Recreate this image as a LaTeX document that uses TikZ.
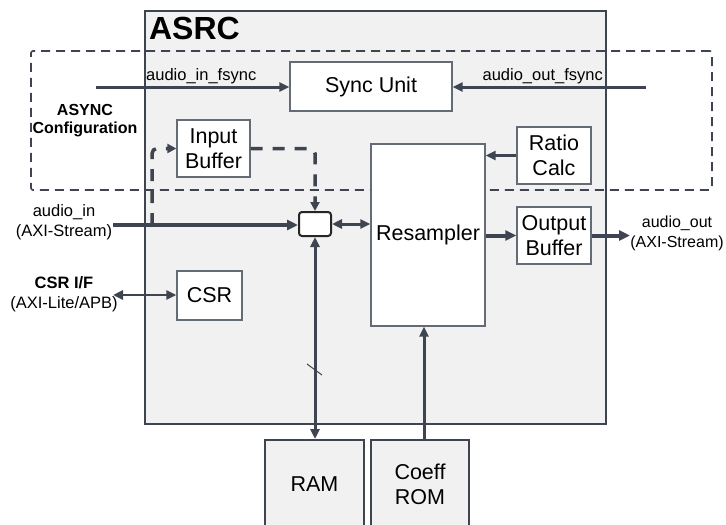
\documentclass[tikz,border=0pt]{standalone}
\usepackage{fontspec}
\setmainfont{Liberation Sans}
\usetikzlibrary{arrows.meta, positioning}
\definecolor{linedark}{HTML}{3E4551}
\definecolor{boxgray}{HTML}{656B74}
\definecolor{panelgray}{HTML}{F1F1F1}

\begin{document}
\begin{tikzpicture}[
    x=1pt, y=-1pt,
    panel/.style={
        rectangle,
        draw=linedark,
        fill=panelgray,
        line width=2.2pt,
        inner sep=0pt
    },
    cfgframe/.style={
        rectangle,
        draw=linedark,
        line width=1.6pt,
        dash pattern=on 9pt off 6pt,
        rounded corners=2pt,
        inner sep=0pt
    },
    block/.style={
        rectangle,
        draw=boxgray,
        fill=white,
        line width=1.3pt,
        align=center,
        inner sep=0pt,
        font=\fontsize{21.5}{25}\selectfont
    },
    memblock/.style={
        block,
        draw=linedark,
        fill=panelgray,
        line width=2pt
    },
    muxbox/.style={
        rectangle,
        rounded corners=3pt,
        draw=black!85,
        fill=white,
        line width=2pt,
        minimum width=32pt,
        minimum height=24pt
    },
    lbl/.style={align=center, inner sep=0pt, font=\fontsize{16.5}{20}\selectfont},
    boldlbl/.style={lbl, font=\fontsize{16}{18}\selectfont\bfseries},
    arrow/.style={-{Triangle[length=10pt, width=9pt]}, line width=3pt, draw=linedark},
    biarrow/.style={{Triangle[length=10pt, width=9pt]}-{Triangle[length=10pt, width=9pt]}, line width=3pt, draw=linedark},
    dataarrow/.style={-{Triangle[length=11pt, width=10pt]}, line width=4pt, draw=linedark},
    dasharrow/.style={-{Triangle[length=9pt, width=9pt]}, line width=3.5pt, draw=linedark, dash pattern=on 12pt off 10pt, rounded corners=5pt}
]
\useasboundingbox (0,0) rectangle (726,525);

% containers
\node[panel, minimum width=461pt, minimum height=413pt] (asrc) at (375.5,217.5) {};
\node[anchor=north west, inner sep=0pt, font=\fontsize{32}{34}\selectfont\bfseries] (title) at ([xshift=5pt, yshift=-7pt]asrc.north west) {ASRC};
\node[cfgframe, minimum width=681pt, minimum height=139pt] (cfg) at (371.5,120.5) {};
\node[boldlbl] (cfglbl) at (85,121) {ASYNC\\Configuration};

% blocks
\node[block, minimum width=162pt, minimum height=49pt] (sync) at (371,86.5) {Sync Unit};
\node[block, minimum width=73pt, minimum height=57pt] (inbuf) at (213.5,148.5) {Input\\Buffer};
\node[block, minimum width=74pt, minimum height=57pt] (ratio) at (554,155.5) {Ratio\\Calc};
\node[block, minimum width=114pt, minimum height=182pt] (resamp) at (428,235) {Resampler};
\node[block, minimum width=74pt, minimum height=57pt] (outbuf) at (554,235.5) {Output\\Buffer};
\node[block, minimum width=65pt, minimum height=49pt] (csr) at (209.5,295.5) {CSR};
\node[muxbox] (mux) at (315,224) {};
\node[memblock, minimum width=99pt, minimum height=88pt] (ram) at (314.5,484) {RAM};
\node[memblock, minimum width=98pt, minimum height=88pt] (rom) at (420,484) {Coeff\\ROM};

% outside ends
\coordinate (fsin) at (96,87);
\coordinate (fsout) at (646,87);
\coordinate (ain) at (113,225);
\coordinate (tap) at (152,225);
\coordinate (aout) at (630,235.5);
\coordinate (csrif) at (113,295);

% labels
\node[lbl, anchor=west] (fsinlbl) at (146,76) {audio\_in\_fsync};
\node[lbl, anchor=east] (fsoutlbl) at (603,76) {audio\_out\_fsync};
\node[lbl] (ainlbl) at (64,222) {audio\_in\\(AXI-Stream)};
\node[lbl, font=\fontsize{16}{20}\selectfont] (aoutlbl) at (677,233) {audio\_out\\(AXI-Stream)};
\node[lbl] (csrlbl) at (64,294) {\textbf{CSR I/F}\\(AXI-Lite/APB)};

% connectors
\draw[arrow] (fsin) -- (sync.west |- fsin);
\draw[arrow] (fsout) -- (sync.east |- fsout);
\draw[dataarrow] (ain) -- (mux.west |- ain);
\draw[dasharrow] (tap) |- (inbuf.west);
\draw[dasharrow] (inbuf.east) -| (mux.north);
\draw[biarrow] (mux.east) -- (mux.east -| resamp.west);
\draw[arrow] (ratio.west) -- (ratio.west -| resamp.east);
\draw[dataarrow] (resamp.east |- outbuf.west) -- (outbuf.west);
\draw[dataarrow] (outbuf.east) -- (aout);
\draw[biarrow, line width=2.5pt] (csrif) -- (csr.west |- csrif);
\draw[biarrow] (mux.south) -- (mux.south |- ram.north);
\draw[line width=1pt, draw=linedark] (307,364) -- (322,375);
\draw[arrow] ([xshift=4pt]rom.north) -- ([xshift=4pt]rom.north |- resamp.south);

\end{tikzpicture}
\end{document}
